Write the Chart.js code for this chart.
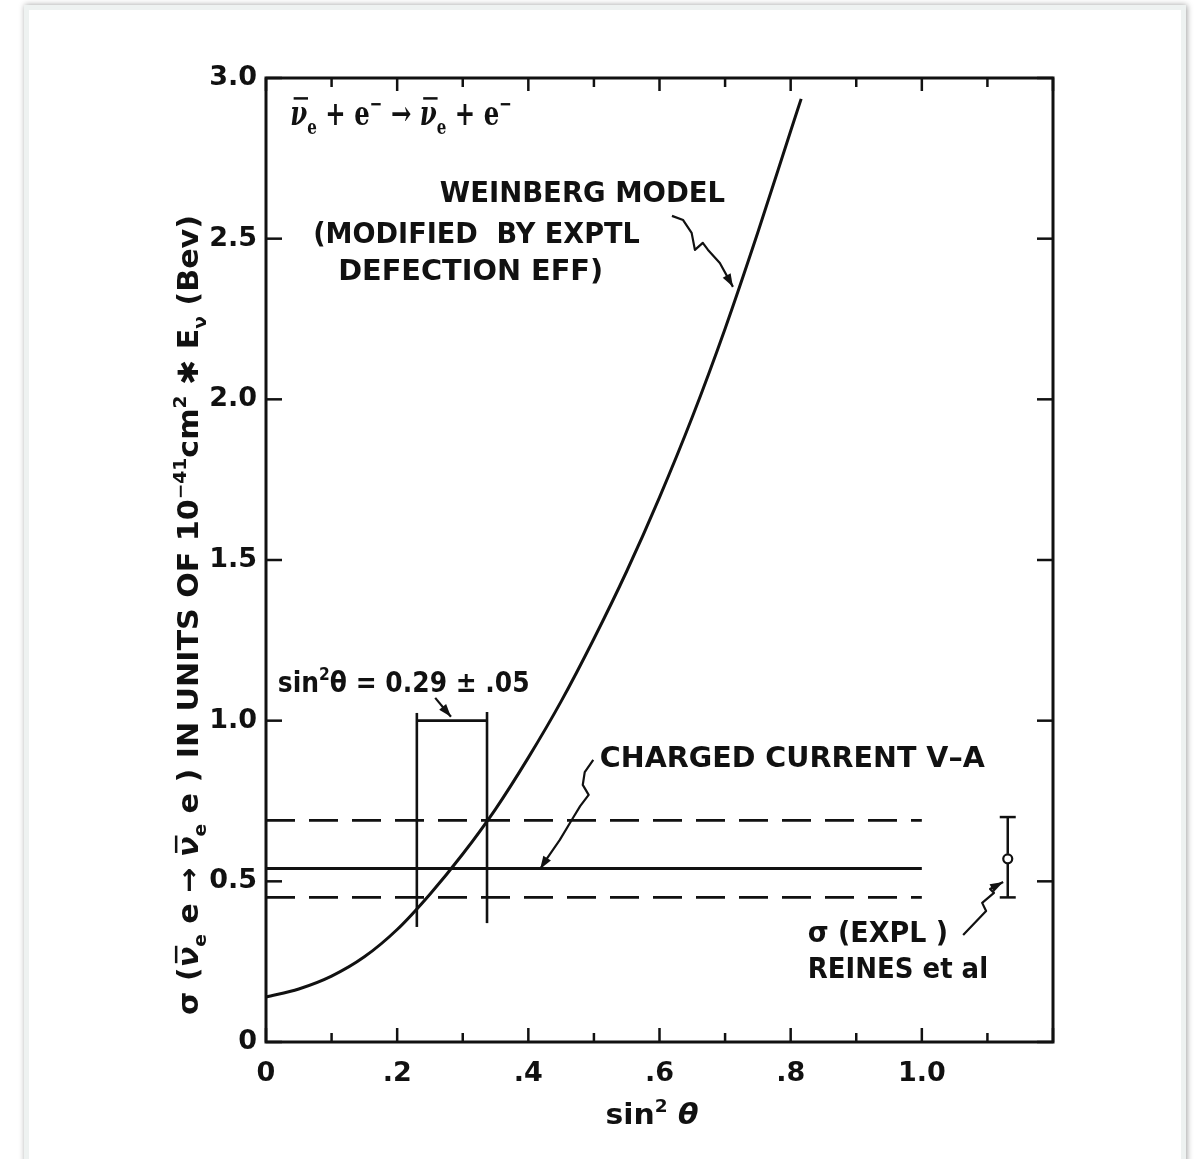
<!DOCTYPE html>
<html>
<head>
<meta charset="utf-8">
<script src="https://cdn.jsdelivr.net/npm/chart.js@4.4.0/dist/chart.umd.min.js"></script>
<style>
  html, body { margin: 0; padding: 0; background: #fff; }
  body { width: 1194px; height: 1159px; position: relative; overflow: hidden; }
  .card { position: absolute; left: 24px; top: 5px; width: 1152px; height: 1180px; background: #fff;
          border: 5px solid #eef2f1; box-shadow: 1px 0 6px rgba(0,0,0,0.38); }
  canvas { position: absolute; left: 0; top: 0; }
</style>
</head>
<body>
<div class="card"></div>
<canvas id="chart" width="1194" height="1159"></canvas>
<script>
// Weinberg model curve
const weinbergX = [0, 0.05, 0.1, 0.15, 0.2, 0.25, 0.3, 0.35, 0.4, 0.45, 0.5, 0.55, 0.6, 0.65, 0.7, 0.75, 0.8, 0.816];
const weinbergY = [0.14, 0.165, 0.205, 0.265, 0.35, 0.46, 0.585, 0.725, 0.885, 1.06, 1.255, 1.465, 1.695, 1.945, 2.22, 2.52, 2.835, 2.935];

// charged current V-A level and its band
const vaX = [0, 1.0];
const vaLevel = 0.54;
const vaUpper = 0.69;
const vaLower = 0.45;

// sin^2 theta = 0.29 +- .05 bracket
const bracketX = [0.23, 0.337];
const bracketLeftY = [0.358, 1.024];
const bracketRightY = [0.37, 1.027];
const bracketTop = 1.0;

// measured point (Reines et al)
const expX = [1.131];
const expY = [0.57];
const expErrPlus = [0.13];
const expErrMinus = [0.12];

// axis ticks
const xTickValues = [0, 0.2, 0.4, 0.6, 0.8, 1.0];
const xTickText = ['0', '.2', '.4', '.6', '.8', '1.0'];
const yTickValues = [0, 0.5, 1.0, 1.5, 2.0, 2.5, 3.0];
const yTickText = ['0', '0.5', '1.0', '1.5', '2.0', '2.5', '3.0'];

const INK = '#111';
const AREA = { left: 266, top: 78, right: 1053, bottom: 1042 };

function pts(xs, ys) {
  return xs.map((x, i) => ({ x, y: ys[i] }));
}

function lineSet(data, width, dash) {
  return {
    data, showLine: true, borderColor: INK, borderWidth: width,
    borderDash: dash || [], pointRadius: 0, fill: false, clip: false
  };
}

// text annotations, in data units: left x, right x, baseline y
const notes = [
  { parts: [['WEINBERG MODEL', '']], x0: 0.265, x1: 0.700, y: 2.614 },
  { parts: [['(MODIFIED  BY EXPTL', '']], x0: 0.072, x1: 0.570, y: 2.487 },
  { parts: [['DEFECTION EFF)', '']], x0: 0.110, x1: 0.514, y: 2.371 },
  { parts: [['sin', ''], ['2', 'sup'], ['θ = 0.29 ± .05', '']], x0: 0.018, x1: 0.402, y: 1.089 },
  { parts: [['CHARGED CURRENT V–A', '']], x0: 0.509, x1: 1.096, y: 0.856 },
  { parts: [['σ (EXPL )', '']], x0: 0.826, x1: 1.040, y: 0.311 },
  { parts: [['REINES et al', '']], x0: 0.826, x1: 1.101, y: 0.199 }
];

// wavy leader arrows, in data units, last point is the tip
const arrows = [
  [[0.619, 2.571], [0.636, 2.558], [0.649, 2.518], [0.654, 2.465], [0.666, 2.487], [0.674, 2.465], [0.692, 2.424], [0.712, 2.350]],
  [[0.499, 0.878], [0.486, 0.840], [0.483, 0.800], [0.492, 0.769], [0.479, 0.734], [0.468, 0.697], [0.448, 0.629], [0.428, 0.570], [0.418, 0.538]],
  [[1.063, 0.333], [1.098, 0.408], [1.092, 0.433], [1.110, 0.464], [1.104, 0.476], [1.124, 0.498]],
  [[0.258, 1.071], [0.282, 1.012]]
];

function drawRich(ctx, parts, x, y, size, opts) {
  opts = opts || {};
  const fam = opts.family || 'DejaVu Sans';
  const font = (s, it) => `${it ? 'italic ' : ''}bold ${s}px "${fam}"`;
  let total = 0;
  const pieces = parts.map(([t, k]) => {
    const s = (k === 'sub' || k === 'sup') ? size * 0.62 : size;
    const it = k === 'bar' || k === 'it';
    ctx.font = font(s, it);
    const w = ctx.measureText(t).width;
    total += w;
    return { t, k, s, w, it };
  });
  const sx = opts.width ? opts.width / total : 1;
  ctx.save();
  ctx.translate(x, y);
  ctx.scale(sx, 1);
  ctx.fillStyle = INK;
  ctx.strokeStyle = INK;
  ctx.textBaseline = 'alphabetic';
  ctx.textAlign = 'left';
  let cx = 0;
  pieces.forEach(p => {
    ctx.font = font(p.s, p.it);
    let dy = 0;
    if (p.k === 'sub') dy = size * 0.28;
    if (p.k === 'sup') dy = -size * 0.42;
    ctx.fillText(p.t, cx, dy);
    if (p.k === 'bar') {
      ctx.lineWidth = 2.5;
      ctx.beginPath();
      ctx.moveTo(cx + p.w * 0.2, -size * 0.78);
      ctx.lineTo(cx + p.w * 1.05, -size * 0.78);
      ctx.stroke();
    }
    cx += p.w;
  });
  ctx.restore();
}

function seg(ctx, x1, y1, x2, y2) {
  ctx.beginPath();
  ctx.moveTo(x1, y1);
  ctx.lineTo(x2, y2);
  ctx.stroke();
}

const overlay = {
  id: 'overlay',
  afterDatasetsDraw(chart) {
    const { ctx, chartArea: a, scales: { x, y } } = chart;
    ctx.save();
    ctx.strokeStyle = INK;
    ctx.fillStyle = INK;
    ctx.lineCap = 'butt';

    // frame
    ctx.lineWidth = 3;
    ctx.strokeRect(a.left, a.top, a.right - a.left, a.bottom - a.top);

    // inward tick marks
    ctx.lineWidth = 2.5;
    x.ticks.forEach(t => {
      const px = x.getPixelForValue(t.value);
      const major = Math.round(t.value * 10) % 2 === 0;
      seg(ctx, px, a.bottom, px, a.bottom - (major ? 14 : 9));
      seg(ctx, px, a.top, px, a.top + (major ? 13 : 9));
    });
    y.ticks.forEach(t => {
      const py = y.getPixelForValue(t.value);
      seg(ctx, a.left, py, a.left + 16, py);
      seg(ctx, a.right, py, a.right - 16, py);
    });

    // error bar on the measured point
    ctx.lineWidth = 2.5;
    expX.forEach((vx, i) => {
      const px = x.getPixelForValue(vx);
      const top = y.getPixelForValue(expY[i] + expErrPlus[i]);
      const bot = y.getPixelForValue(expY[i] - expErrMinus[i]);
      const mid = y.getPixelForValue(expY[i]);
      seg(ctx, px, top, px, mid - 5);
      seg(ctx, px, mid + 5, px, bot);
      seg(ctx, px - 8, top, px + 8, top);
      seg(ctx, px - 8, bot, px + 8, bot);
    });

    // wavy leader arrows
    ctx.lineWidth = 2.2;
    ctx.lineJoin = 'round';
    arrows.forEach(path => {
      const p = path.map(([vx, vy]) => [x.getPixelForValue(vx), y.getPixelForValue(vy)]);
      ctx.beginPath();
      p.forEach(([px, py], i) => i ? ctx.lineTo(px, py) : ctx.moveTo(px, py));
      ctx.stroke();
      const [tx, ty] = p[p.length - 1];
      const [bx, by] = p[p.length - 2];
      const ang = Math.atan2(ty - by, tx - bx);
      ctx.save();
      ctx.translate(tx, ty);
      ctx.rotate(ang);
      ctx.beginPath();
      ctx.moveTo(0, 0);
      ctx.lineTo(-13, -4.5);
      ctx.lineTo(-13, 4.5);
      ctx.closePath();
      ctx.fill();
      ctx.restore();
    });

    // annotations
    notes.forEach(n => {
      const x0 = x.getPixelForValue(n.x0);
      const x1 = x.getPixelForValue(n.x1);
      drawRich(ctx, n.parts, x0, y.getPixelForValue(n.y), 28, { width: x1 - x0 });
    });

    // reaction
    const rx0 = x.getPixelForValue(0.037), rx1 = x.getPixelForValue(0.375);
    drawRich(ctx, [['ν', 'bar'], ['e', 'sub'], [' + e', ''], ['−', 'sup'], [' → ', ''], ['ν', 'bar'], ['e', 'sub'], [' + e', ''], ['−', 'sup']],
      rx0, y.getPixelForValue(2.854), 34, { family: 'DejaVu Serif', width: rx1 - rx0 });

    // x title
    const cxT = (a.left + a.right) / 2 - 8;
    drawRich(ctx, [['sin', ''], ['2', 'sup'], [' θ', 'it']], cxT - 46, 1124, 28, { width: 93 });

    // y title (rotated)
    ctx.save();
    ctx.translate(198, 615);
    ctx.rotate(-Math.PI / 2);
    drawRich(ctx, [['σ (', ''], ['ν', 'bar'], ['e', 'sub'], [' e → ', ''], ['ν', 'bar'], ['e', 'sub'], [' e ) IN UNITS OF 10', ''],
      ['−41', 'sup'], ['cm', ''], ['2', 'sup'], [' ✱ E', ''], ['ν', 'sub'], [' (Bev)', '']], -400, 0, 28, { width: 800 });
    ctx.restore();

    ctx.restore();
  }
};

const tickFont = { family: 'DejaVu Sans', weight: 'bold', size: 27 };

new Chart(document.getElementById('chart'), {
  type: 'scatter',
  data: {
    datasets: [
      Object.assign(lineSet(pts(weinbergX, weinbergY), 3), { cubicInterpolationMode: 'monotone' }),
      lineSet(pts(vaX, vaX.map(() => vaLevel)), 2.8),
      lineSet(pts(vaX, vaX.map(() => vaUpper)), 2.8, [29, 14]),
      lineSet(pts(vaX, vaX.map(() => vaLower)), 2.8, [29, 14]),
      lineSet(pts([bracketX[0], bracketX[0]], bracketLeftY), 2.6),
      lineSet(pts([bracketX[1], bracketX[1]], bracketRightY), 2.6),
      lineSet(pts(bracketX, bracketX.map(() => bracketTop)), 2.6),
      {
        data: pts(expX, expY), showLine: false, pointRadius: 4.5, pointStyle: 'circle',
        pointBackgroundColor: '#fff', pointBorderColor: INK, pointBorderWidth: 2.2
      }
    ]
  },
  options: {
    responsive: false,
    animation: false,
    devicePixelRatio: 1,
    layout: { padding: { left: 0, top: AREA.top, right: 1194 - AREA.right, bottom: 0 } },
    plugins: { legend: { display: false }, tooltip: { enabled: false } },
    scales: {
      x: {
        type: 'linear', min: 0, max: 1.2,
        afterFit: s => { s.height = 1159 - AREA.bottom; },
        grid: { display: false, drawTicks: false },
        border: { display: false },
        ticks: {
          stepSize: 0.1, autoSkip: false, maxRotation: 0, padding: 16, color: INK, font: tickFont,
          callback: v => {
            const i = xTickValues.findIndex(t => Math.abs(t - v) < 1e-6);
            return i < 0 ? '' : xTickText[i];
          }
        }
      },
      y: {
        type: 'linear', min: 0, max: 3,
        afterFit: s => { s.width = AREA.left; },
        grid: { display: false, drawTicks: false },
        border: { display: false },
        ticks: {
          stepSize: 0.5, padding: 9, color: INK, font: tickFont,
          callback: v => {
            const i = yTickValues.findIndex(t => Math.abs(t - v) < 1e-6);
            return i < 0 ? '' : yTickText[i];
          }
        }
      }
    }
  },
  plugins: [overlay]
});
</script>
</body>
</html>
